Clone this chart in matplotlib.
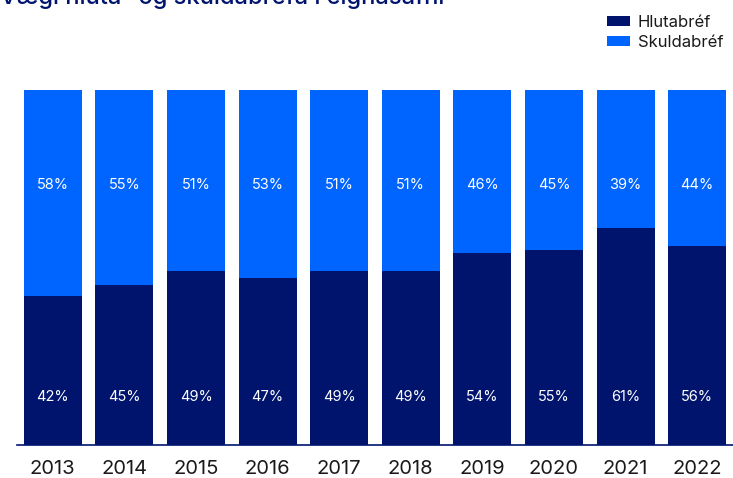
import matplotlib.pyplot as plt
import numpy as np

years = ['2013', '2014', '2015', '2016', '2017', '2018', '2019', '2020', '2021', '2022']
hluta = [42, 45, 49, 47, 49, 49, 54, 55, 61, 56]
skulda = [58, 55, 51, 53, 51, 51, 46, 45, 39, 44]

navy = '#00146e'
blue = '#0064ff'

plt.rcParams['font.family'] = ['Inter', 'DejaVu Sans']

fig = plt.figure(figsize=(7.33, 4.78), dpi=100)
ax = fig.add_axes([17 / 733, 33 / 478, 716 / 733, 355 / 478])

x = np.arange(len(years))
ax.bar(x, hluta, width=0.81, color=navy, label='Hlutabréf')
ax.bar(x, skulda, width=0.81, bottom=hluta, color=blue, label='Skuldabréf')

### fixed label rows, as in the original
for i in range(len(years)):
    ax.text(x[i], 13.5, str(hluta[i]) + '%', color='white', ha='center', va='center', fontsize=10.5)
    ax.text(x[i], 73.2, str(skulda[i]) + '%', color='white', ha='center', va='center', fontsize=10.5)

ax.set_xlim(-0.5, len(years) - 0.5)
ax.set_ylim(0, 100)
ax.set_xticks(x)
ax.set_xticklabels(years, fontsize=14.5, color='#1a1a1a')
ax.tick_params(axis='x', length=0, pad=11)
ax.set_yticks([])
for s in ['top', 'right', 'left']:
    ax.spines[s].set_visible(False)
ax.spines['bottom'].set_color(navy)
ax.spines['bottom'].set_linewidth(1.2)

### title sits mostly above the visible canvas, as in the reference
fig.text(0.0, 1.005, 'Vægi hluta- og skuldabréfa í eignasafni', color=navy, fontsize=17,
         ha='left', va='center', fontweight='medium')

leg = fig.legend(loc='upper left', bbox_to_anchor=(592 / 733, 1.0), frameon=False,
                 fontsize=12, handlelength=1.4, handleheight=0.6, handletextpad=0.45,
                 labelspacing=0.3)
for t in leg.get_texts():
    t.set_color('#1a1a1a')

fig.savefig('out.png', dpi=100)
